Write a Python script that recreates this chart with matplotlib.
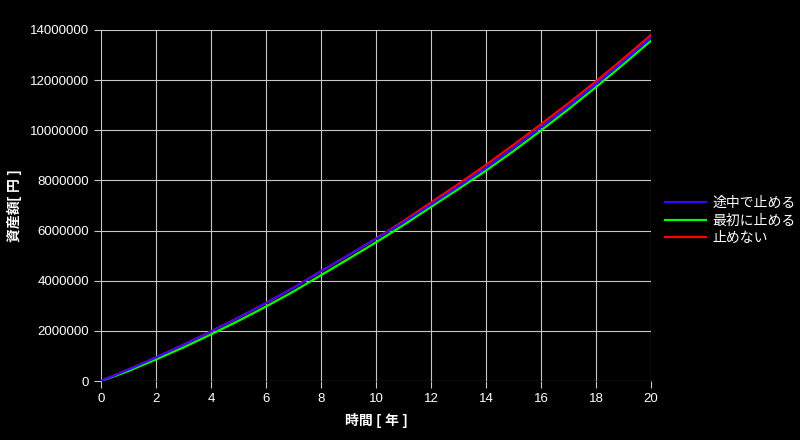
import matplotlib
matplotlib.use("Agg")
import matplotlib.pyplot as plt

# data (yen, yearly)
years = list(range(21))
stop_midway = [0, 460000, 940000, 1450000, 1980000, 2530000, 3110000, 3720000, 4380000,
               5020000, 5680000, 6330000, 7040000, 7760000, 8500000, 9300000, 10120000,
               10960000, 11840000, 12750000, 13690000]
stop_first = [0, 400000, 860000, 1340000, 1860000, 2400000, 2970000, 3570000, 4220000,
              4870000, 5530000, 6220000, 6940000, 7660000, 8390000, 9170000, 9990000,
              10840000, 11720000, 12630000, 13570000]
no_stop = [0, 460000, 940000, 1450000, 1980000, 2530000, 3110000, 3720000, 4380000,
           5020000, 5680000, 6380000, 7120000, 7860000, 8620000, 9420000, 10240000,
           11080000, 11950000, 12860000, 13800000]

series_names = ["途中で止める", "最初に止める", "止めない"]
x_ticks = [0, 2, 4, 6, 8, 10, 12, 14, 16, 18, 20]
y_ticks = [0, 2000000, 4000000, 6000000, 8000000, 10000000, 12000000, 14000000]

plt.rcParams['font.family'] = ['Liberation Sans', 'Noto Sans CJK JP']

fig = plt.figure(figsize=(8, 4.4), dpi=100, facecolor="black")
ax = fig.add_axes([0.12625, 0.134, 0.6875, 0.798])
ax.set_facecolor("black")

l3, = ax.plot(years, no_stop, color="#ff0000", lw=1.6, zorder=3)
l2, = ax.plot(years, stop_first, color="#00ff00", lw=1.6, zorder=4)
l1, = ax.plot(years, stop_midway, color="#4000ff", lw=1.6, zorder=5)

ax.set_xlim(0, 20)
ax.set_ylim(0, 14000000)
ax.set_xticks(x_ticks)
ax.set_xticklabels([str(v) for v in x_ticks])
ax.set_yticks(y_ticks)
ax.set_yticklabels([str(v) for v in y_ticks])
ax.grid(True, color="#c8c8c8", lw=0.8)
for s in ax.spines.values():
    s.set_visible(False)
ax.tick_params(colors="white", labelsize=9.5, length=5, width=0.8)
ax.tick_params(axis="both", color="#c8c8c8")

ax.set_xlabel("時間 [ 年 ]", color="white", fontsize=10, fontweight="bold", labelpad=6)
ax.set_ylabel("資産額[ 円 ]", color="white", fontsize=10, fontweight="bold", labelpad=6)

fig.legend([l1, l2, l3], series_names, loc="upper left",
           bbox_to_anchor=(0.815, 0.583), frameon=False, fontsize=10,
           labelcolor="white", handlelength=3.0, handletextpad=0.45,
           labelspacing=0.25)

fig.savefig("out.png", dpi=100, facecolor="black")
